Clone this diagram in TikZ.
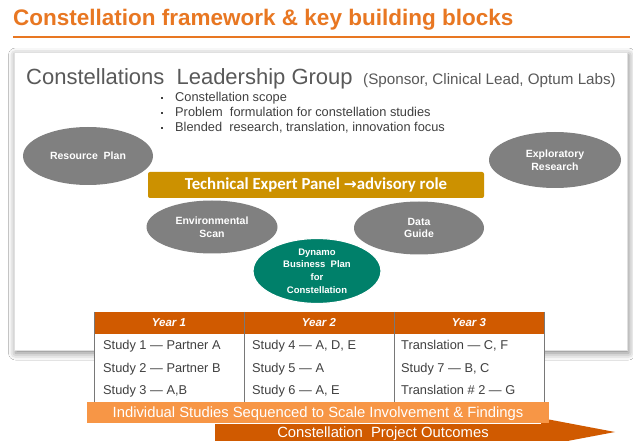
\documentclass[tikz,border=0pt]{standalone}
\usepackage{fontspec}
\setmainfont{Liberation Sans}
\newfontfamily\carlito{Carlito}
\newfontfamily\dejavu{DejaVu Sans}
\usetikzlibrary{shapes.geometric,shadows.blur}
\definecolor{titleorange}{RGB}{232,119,34}
\definecolor{tepgold}{RGB}{204,145,0}
\definecolor{ellgray}{RGB}{128,128,128}
\definecolor{dteal}{RGB}{0,128,106}
\definecolor{taborange}{RGB}{208,90,0}
\definecolor{lightbar}{RGB}{247,150,70}
\definecolor{headgray}{RGB}{89,89,89}
\definecolor{textgray}{RGB}{64,64,64}
\definecolor{rulegray}{RGB}{120,120,120}
\newcommand{\myfs}[2]{\fontsize{#1}{#2}\selectfont}
\begin{document}
\begin{tikzpicture}[x=1pt,y=-1pt,
  grayell/.style={ellipse, fill=ellgray, draw=none, text=white, inner sep=0pt,
     align=center, font=\bfseries\myfs{10.5}{12.5}},
  tealell/.style={ellipse, fill=dteal, draw=white, line width=1.2pt, text=white, inner sep=0pt,
     align=center, font=\bfseries\myfs{9.5}{12.7}},
  bullettext/.style={anchor=base west, inner sep=0pt, text=textgray, font=\myfs{12.8}{14}},
  celltext/.style={anchor=base west, inner sep=0pt, text=textgray, font=\myfs{12.8}{14}},
  yearhead/.style={inner sep=0pt, text=white, font=\bfseries\itshape\myfs{11.5}{13}},
  bartext/.style={inner sep=0pt, text=white, font=\myfs{14.8}{16}}
]
\useasboundingbox (0,0) rectangle (633,441);
\fill[white] (0,0) rectangle (633,441);

% title
\node[anchor=base west, inner sep=0pt, text=titleorange, font=\bfseries\myfs{22.5}{26}] (title) at (13,26) {Constellation framework \& key building blocks};
\draw[titleorange, line width=1.5pt] (13,37) -- (630,37);

% panel
\fill[white, draw=black!12, blur shadow={shadow xshift=1.5pt, shadow yshift=-3pt, shadow blur radius=7pt, shadow opacity=50}] (14,52) rectangle (627,350);

% header text
\node[anchor=base west, inner sep=0pt, text=headgray, font=\myfs{22}{26}] (lg) at (26,85) {Constellations\ \ Leadership Group};
\node[anchor=base west, inner sep=0pt, text=headgray, font=\myfs{15.2}{17}] (sp) at (363,85) {(Sponsor, Clinical Lead, Optum Labs)};

% bullets
\foreach \yy/\tt [count=\i] in {102/{Constellation scope},117/{Problem\ \ formulation for constellation studies},132/{Blended\ \ research, translation, innovation focus}}{
  \fill[textgray] (161.2,\yy-4.6) rectangle (162.8,\yy-3);
  \node[bullettext] (b\i) at (175,\yy) {\tt};
}

% ellipses
\node[grayell, minimum width=130pt, minimum height=58pt] (rp) at (88,156) {Resource\ \ Plan};
\node[grayell, minimum width=132pt, minimum height=56pt] (er) at (555,160) {Exploratory\\Research};

% TEP bar
\node[fill=tepgold, rounded corners=2pt, minimum width=336pt, minimum height=26pt, inner sep=0pt,
  text=white, font=\carlito\bfseries\myfs{16.8}{18}] (tep) at (316,185) {Technical Expert Panel {\dejavu\bfseries\myfs{15.5}{15}→}advisory role};

\node[grayell, minimum width=131pt, minimum height=53pt] (es) at (212,227) {Environmental\\Scan};
\node[grayell, minimum width=130pt, minimum height=53pt] (dg) at (419,228) {Data\\Guide};
\node[tealell, minimum width=128pt, minimum height=65pt] (dy) at (317,271) {Dynamo\\Business\ \ Plan\\for\\Constellation};

% table
\fill[white] (94,312) rectangle (544,410);
\fill[taborange] (94,312) rectangle (544,334);
\foreach \xx in {94,244,394,544}{\draw[rulegray, line width=1pt] (\xx,312) -- (\xx,410);}
\node[yearhead] (y1) at (169,323) {Year 1};
\node[yearhead] (y2) at (319,323) {Year 2};
\node[yearhead] (y3) at (469,323) {Year 3};
\node[celltext] (c11) at (103,350) {Study 1 — Partner A};
\node[celltext] (c12) at (103,372.5) {Study 2 — Partner B};
\node[celltext] (c13) at (103,395) {Study 3 — A,B};
\node[celltext] (c21) at (252,350) {Study 4 — A, D, E};
\node[celltext] (c22) at (252,372.5) {Study 5 — A};
\node[celltext] (c23) at (252,395) {Study 6 — A, E};
\node[celltext] (c31) at (401,350) {Translation — C, F};
\node[celltext] (c32) at (401,372.5) {Study 7 — B, C};
\node[celltext] (c33) at (401,395) {Translation \# 2 — G};

% outcome arrow
\begin{scope}
\clip (0,0) rectangle (633,441);
\fill[taborange] (215,424) -- (541,424) -- (541,418) -- (615,432) -- (541,446) -- (215,446) -- cycle;
\end{scope}
\node[bartext, anchor=base] (out) at (383,437.5) {Constellation\ \ Project Outcomes};

% light bar
\fill[lightbar] (87,402) rectangle (549,423);
\node[bartext, anchor=base] (ind) at (318,417.5) {Individual Studies Sequenced to Scale Involvement \& Findings};
\end{tikzpicture}
\end{document}
